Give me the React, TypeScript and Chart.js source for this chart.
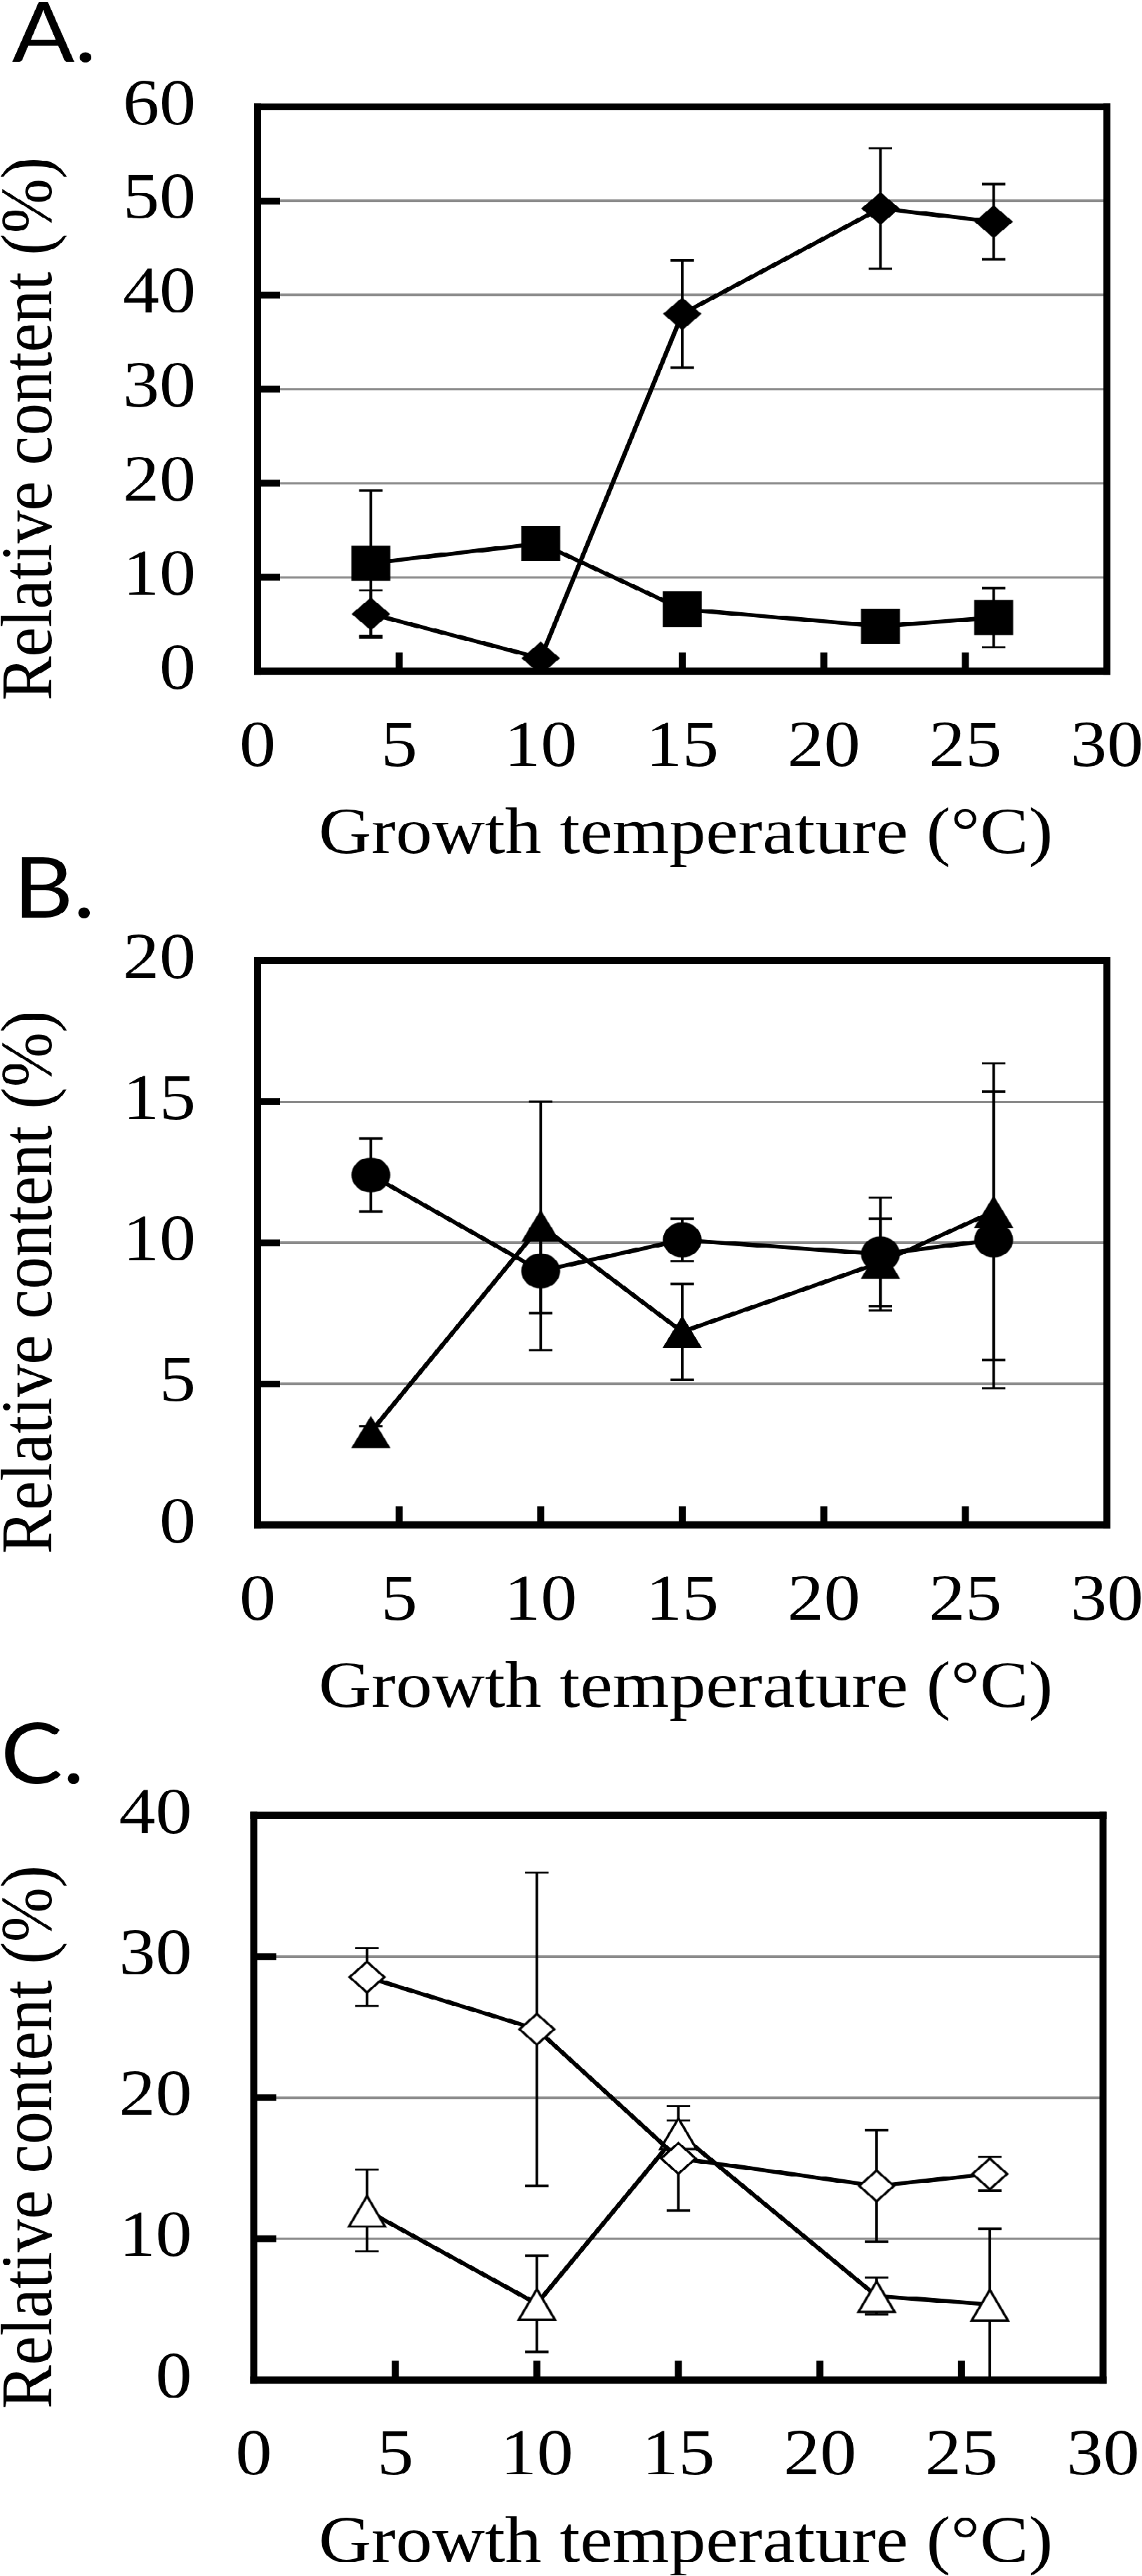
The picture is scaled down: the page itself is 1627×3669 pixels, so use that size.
import React, { useEffect, useRef } from 'react';
import { Chart, registerables } from 'chart.js';

Chart.register(...registerables);

// The original figure is squeezed vertically; we draw unsqueezed and scale by SQ.
const SQ = 0.9;

// ---------- data ----------
const temperatures = [4, 10, 15, 22, 26];
const xTicks = [0, 5, 10, 15, 20, 25, 30];

// Panel A
const aDiamond = [6.1, 1.4, 38.0, 49.2, 47.8];
const aDiamondErr = [2.5, 0.3, 5.7, 6.4, 4.0];
const aSquare = [11.5, 13.6, 6.6, 4.8, 5.7];
const aSquareErr = [7.7, 0.5, 0.6, 0.6, 3.15];
const aYTicks = [0, 10, 20, 30, 40, 50, 60];

// Panel B
const bCircle = [12.4, 9.0, 10.1, 9.6, 10.1];
const bCircleErr = [1.3, 1.5, 0.75, 2.0, 5.25];
const bTriangle = [3.3, 10.6, 6.85, 9.3, 11.1];
const bTriangleErr = [0.2, 4.4, 1.7, 1.55, 5.25];
const bYTicks = [0, 5, 10, 15, 20];

// Panel C
const cDiamond = [28.55, 24.85, 15.7, 13.75, 14.6];
const cDiamondErr = [2.05, 11.1, 3.7, 3.96, 1.2];
const cTriangle = [12.0, 5.4, 17.5, 5.95, 5.35];
const cTriangleErr = [2.9, 3.4, 0.9, 1.3, 5.35];
const cYTicks = [0, 10, 20, 30, 40];

const panelLabels = ['A.', 'B.', 'C.'];
const xTitle = 'Growth temperature (°C)';
const yTitle = 'Relative content (%)';

// ---------- styling ----------
const SERIF = '"Liberation Serif", "Times New Roman", Times, serif';
const SANS = 'Lato, "Open Sans", sans-serif';
const CANVAS_W = 1627;
const CANVAS_H = 1375;
const PLOT_TOP = 169.2;
const PLOT_BOTTOM = 1062.4;
const Y_AXIS_W = 200;
const X_AXIS_H = 200;
const X_TITLE_LEN = 1046;
const Y_TITLE_LEN = 860;

type Shape = 'diamond' | 'square' | 'circle' | 'triangle';

function makeMarker(shape: Shape, w: number, h: number, filled: boolean) {
  const lw = filled ? 0 : 3.6;
  const W = Math.ceil(w) + 4;
  const H = Math.ceil(h) + 4;
  const c = document.createElement('canvas');
  c.width = W;
  c.height = H;
  const ctx = c.getContext('2d')!;
  const cx = W / 2;
  const cy = H / 2;
  const hw = w / 2 - lw / 2;
  const hh = h / 2 - lw / 2;
  ctx.beginPath();
  if (shape === 'diamond') {
    ctx.moveTo(cx, cy - hh);
    ctx.lineTo(cx + hw, cy);
    ctx.lineTo(cx, cy + hh);
    ctx.lineTo(cx - hw, cy);
    ctx.closePath();
  } else if (shape === 'square') {
    ctx.rect(cx - hw, cy - hh, hw * 2, hh * 2);
  } else if (shape === 'circle') {
    ctx.ellipse(cx, cy, hw, hh, 0, 0, Math.PI * 2);
  } else {
    const t = filled ? 0 : lw * 0.6;
    ctx.moveTo(cx, cy - hh + t);
    ctx.lineTo(cx + hw, cy + hh);
    ctx.lineTo(cx - hw, cy + hh);
    ctx.closePath();
  }
  if (filled) {
    ctx.fillStyle = '#000';
    ctx.fill();
  } else {
    ctx.fillStyle = '#fff';
    ctx.fill();
    ctx.lineWidth = lw;
    ctx.lineJoin = 'miter';
    ctx.strokeStyle = '#000';
    ctx.stroke();
  }
  return c;
}

interface SeriesSpec {
  values: number[];
  errors: number[];
  shape: Shape;
  w: number;
  h: number;
  filled: boolean;
}

interface PanelSpec {
  label: string;
  labelX: number;
  labelBaseline: number;
  plotLeft: number;
  plotRight: number;
  yMax: number;
  yTicks: number[];
  series: SeriesSpec[];
  top: number;
}

const panels: PanelSpec[] = [
  {
    label: panelLabels[0],
    labelX: 17,
    labelBaseline: 97.8,
    plotLeft: 367,
    plotRight: 1577,
    yMax: 60,
    yTicks: aYTicks,
    top: 0,
    series: [
      { values: aDiamond, errors: aDiamondErr, shape: 'diamond', w: 55, h: 52, filled: true },
      { values: aSquare, errors: aSquareErr, shape: 'square', w: 55.5, h: 56, filled: true },
    ],
  },
  {
    label: panelLabels[1],
    labelX: 19,
    labelBaseline: 100.9,
    plotLeft: 367,
    plotRight: 1577,
    yMax: 20,
    yTicks: bYTicks,
    top: 1216.2 / SQ,
    series: [
      { values: bCircle, errors: bCircleErr, shape: 'circle', w: 55.5, h: 55.5, filled: true },
      { values: bTriangle, errors: bTriangleErr, shape: 'triangle', w: 56, h: 51, filled: true },
    ],
  },
  {
    label: panelLabels[2],
    labelX: 1,
    labelBaseline: 117.5,
    plotLeft: 361.5,
    plotRight: 1571.5,
    yMax: 40,
    yTicks: cYTicks,
    top: 2433.7 / SQ,
    series: [
      { values: cDiamond, errors: cDiamondErr, shape: 'diamond', w: 53, h: 52, filled: false },
      { values: cTriangle, errors: cTriangleErr, shape: 'triangle', w: 55, h: 54, filled: false },
    ],
  },
];

const CAP = 16.7;

const errorBarPlugin = {
  id: 'errorBars',
  beforeDatasetsDraw(chart: any) {
    const ctx = chart.ctx;
    const ys = chart.scales.y;
    const a = chart.chartArea;
    ctx.save();
    ctx.beginPath();
    ctx.rect(a.left, a.top, a.right - a.left, a.bottom - a.top);
    ctx.clip();
    ctx.strokeStyle = '#000';
    ctx.lineWidth = 3.8;
    ctx.lineCap = 'butt';
    chart.data.datasets.forEach((ds: any, i: number) => {
      const errs: number[] = ds.errorBars;
      if (!errs) return;
      const meta = chart.getDatasetMeta(i);
      meta.data.forEach((pt: any, j: number) => {
        const v = ds.data[j].y;
        const e = errs[j];
        if (!e) return;
        const yT = ys.getPixelForValue(v + e);
        const yB = ys.getPixelForValue(v - e);
        ctx.beginPath();
        ctx.moveTo(pt.x, yT);
        ctx.lineTo(pt.x, yB);
        ctx.moveTo(pt.x - CAP, yT);
        ctx.lineTo(pt.x + CAP, yT);
        ctx.moveTo(pt.x - CAP, yB);
        ctx.lineTo(pt.x + CAP, yB);
        ctx.stroke();
      });
    });
    ctx.restore();
  },
};

function fittedText(ctx: CanvasRenderingContext2D, text: string, target: number) {
  const m = ctx.measureText(text).width;
  const k = m > 0 ? target / m : 1;
  ctx.save();
  ctx.scale(k, 1);
  ctx.fillText(text, 0, 0);
  ctx.restore();
}

function makeDecorPlugin(p: PanelSpec) {
  return {
    id: 'decor',
    afterDraw(chart: any) {
      const ctx = chart.ctx;
      const a = chart.chartArea;
      const xs = chart.scales.x;
      const ys = chart.scales.y;
      ctx.save();
      ctx.fillStyle = '#000';
      const vw = 10;
      const hw = 11.5;
      // frame
      ctx.fillRect(a.left - vw / 2, a.top - hw / 2, vw, a.bottom - a.top + hw);
      ctx.fillRect(a.right - vw / 2, a.top - hw / 2, vw, a.bottom - a.top + hw);
      ctx.fillRect(a.left - vw / 2, a.top - hw / 2, a.right - a.left + vw, hw);
      ctx.fillRect(a.left - vw / 2, a.bottom - hw / 2, a.right - a.left + vw, hw);
      // inside tick marks
      ys.ticks.forEach((t: any) => {
        const py = ys.getPixelForValue(t.value);
        if (py > a.top + 2 && py < a.bottom - 2) ctx.fillRect(a.left, py - 5.35, 32, 10.7);
      });
      xs.ticks.forEach((t: any) => {
        const px = xs.getPixelForValue(t.value);
        if (px > a.left + 2 && px < a.right - 2) ctx.fillRect(px - 5, a.bottom - 30, 10, 30);
      });
      // axis titles
      ctx.font = `104px ${SERIF}`;
      ctx.textAlign = 'center';
      ctx.textBaseline = 'alphabetic';
      ctx.save();
      ctx.translate(977, 1350);
      fittedText(ctx, xTitle, X_TITLE_LEN);
      ctx.restore();
      ctx.save();
      ctx.translate(73, 678.3);
      ctx.rotate(-Math.PI / 2);
      fittedText(ctx, yTitle, Y_TITLE_LEN);
      ctx.restore();
      // panel label
      ctx.font = `132px ${SANS}`;
      ctx.textAlign = 'left';
      ctx.fillText(p.label, p.labelX, p.labelBaseline);
      ctx.restore();
    },
  };
}

function Panel({ p }: { p: PanelSpec }) {
  const ref = useRef<HTMLCanvasElement | null>(null);
  useEffect(() => {
    if (!ref.current) return;
    const datasets = p.series.map((s) => ({
      data: temperatures.map((t, i) => ({ x: t, y: s.values[i] })),
      errorBars: s.errors,
      borderColor: '#000',
      borderWidth: 6.5,
      fill: false,
      tension: 0,
      pointStyle: makeMarker(s.shape, s.w, s.h, s.filled),
      pointRadius: 20,
      pointHoverRadius: 20,
      pointBorderWidth: 0,
      clip: false,
    }));
    const chart = new Chart(ref.current, {
      type: 'line',
      data: { datasets } as any,
      options: {
        animation: false,
        responsive: false,
        events: [],
        layout: {
          padding: {
            left: p.plotLeft - Y_AXIS_W,
            right: CANVAS_W - p.plotRight,
            top: PLOT_TOP,
            bottom: CANVAS_H - PLOT_BOTTOM - X_AXIS_H,
          },
        },
        plugins: { legend: { display: false }, tooltip: { enabled: false } },
        scales: {
          x: {
            type: 'linear',
            min: 0,
            max: 30,
            afterBuildTicks: (scale: any) => {
              scale.ticks = xTicks.map((v) => ({ value: v }));
            },
            afterFit: (scale: any) => {
              scale.height = X_AXIS_H;
              scale.paddingLeft = 0;
              scale.paddingRight = 0;
              scale.paddingTop = 0;
              scale.paddingBottom = 0;
            },
            grid: { display: false, drawTicks: false },
            border: { display: false },
            ticks: {
              autoSkip: false,
              maxRotation: 0,
              padding: 70,
              color: '#000',
              font: { family: SERIF, size: 104, lineHeight: 1 },
            },
          },
          y: {
            type: 'linear',
            min: 0,
            max: p.yMax,
            afterBuildTicks: (scale: any) => {
              scale.ticks = p.yTicks.map((v) => ({ value: v }));
            },
            afterFit: (scale: any) => {
              scale.width = Y_AXIS_W;
              scale.paddingLeft = 0;
              scale.paddingRight = 0;
              scale.paddingTop = 0;
              scale.paddingBottom = 0;
            },
            grid: { color: '#8c8c8c', lineWidth: 4, drawTicks: false },
            border: { display: false },
            ticks: {
              autoSkip: false,
              padding: 88,
              color: '#000',
              font: { family: SERIF, size: 104, lineHeight: 1 },
            },
          },
        },
      } as any,
      plugins: [errorBarPlugin, makeDecorPlugin(p)],
    });
    return () => chart.destroy();
  }, [p]);
  return (
    <canvas
      ref={ref}
      width={CANVAS_W}
      height={CANVAS_H}
      style={{ position: 'absolute', left: 0, top: p.top, width: CANVAS_W, height: CANVAS_H }}
    />
  );
}

export default function App() {
  return (
    <div
      style={{
        position: 'absolute',
        left: 0,
        top: 0,
        width: 1627,
        height: 3669,
        overflow: 'hidden',
        background: '#fff',
      }}
    >
      <div
        style={{
          position: 'absolute',
          left: 0,
          top: 0,
          width: 1627,
          height: 3669 / SQ + 10,
          transform: `scaleY(${SQ})`,
          transformOrigin: '0 0',
        }}
      >
        {panels.map((p, i) => (
          <Panel key={i} p={p} />
        ))}
      </div>
    </div>
  );
}
